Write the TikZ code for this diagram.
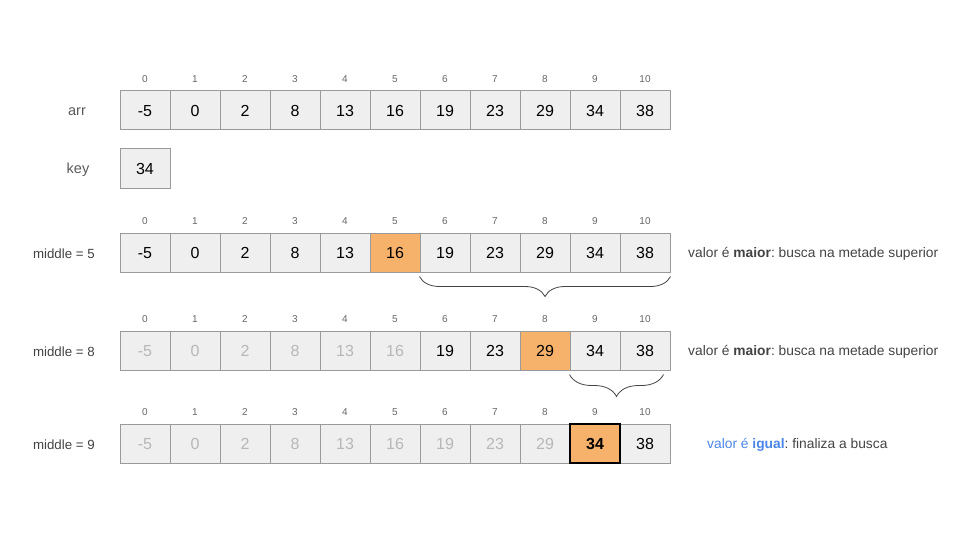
\documentclass[tikz,border=0pt]{standalone}
\usepackage{fontspec}
\setmainfont{Liberation Sans}
\usetikzlibrary{decorations.pathreplacing}
\frenchspacing
\definecolor{cellfill}{HTML}{EFEFEF}
\definecolor{cellline}{HTML}{9A9A9A}
\definecolor{hl}{HTML}{F6B26B}
\definecolor{faded}{HTML}{B7B7B7}
\definecolor{idxcol}{HTML}{666666}
\definecolor{lblcol}{HTML}{595959}
\definecolor{txtcol}{HTML}{434343}
\definecolor{bluecol}{HTML}{4A86E8}
\tikzset{
  cell/.style={draw=cellline, line width=1pt, fill=cellfill, minimum width=50pt, minimum height=39pt, inner sep=0pt, text height=11.5pt, text depth=0pt, font=\fontsize{16}{19}\selectfont, text=black},
  fadedcell/.style={cell, text=faded},
  hlcell/.style={cell, fill=hl},
  foundcell/.style={cell, fill=hl, draw=black, line width=2pt, font=\fontsize{16}{19}\selectfont\bfseries},
  idx/.style={font=\fontsize{10}{12}\selectfont, text=idxcol, inner sep=0pt},
  rowlbl/.style={font=\fontsize{14.5}{17}\selectfont, text=lblcol, inner sep=0pt},
  midlbl/.style={font=\fontsize{13.3}{16}\selectfont, text=txtcol, inner sep=0pt, anchor=east},
  sidetxt/.style={font=\fontsize{13.8}{16}\selectfont, text=txtcol, inner sep=0pt, anchor=west},
  bracepath/.style={draw=txtcol, line width=0.8pt, decorate, decoration={brace, mirror, amplitude=20pt}}
}
\begin{document}
\begin{tikzpicture}[x=1pt, y=-1pt]
\useasboundingbox (0,0) rectangle (960,540);
\def\vals{-5,0,2,8,13,16,19,23,29,34,38}
% Row 1: arr
\node[rowlbl] (larr) at (77,111.5) {arr};
\foreach \v [count=\i from 0] in \vals {
  \node[cell] (a\i) at (145+50*\i,110.5) {\v};
  \node[idx] (ia\i) at (145+50*\i,79) {\i};
}
% Row 2: key
\node[rowlbl] (lkey) at (78,170) {key};
\node[cell] (key) at (145,168.5) {34};
% Row 3: middle = 5
\node[midlbl] (lm5) at (95,254) {middle = 5};
\foreach \v [count=\i from 0] in \vals {
  \ifnum\i=5
    \node[hlcell] (b\i) at (145+50*\i,252.5) {\v};
  \else
    \node[cell] (b\i) at (145+50*\i,252.5) {\v};
  \fi
  \node[idx] (ib\i) at (145+50*\i,221) {\i};
}
\node[sidetxt] (t5) at (688,253.5) {valor é \textbf{maior}: busca na metade superior};
\draw[bracepath] ([yshift=-4pt]b6.south west) -- ([yshift=-4pt]b10.south east);
% Row 4: middle = 8
\node[midlbl] (lm8) at (95,352) {middle = 8};
\foreach \v [count=\i from 0] in \vals {
  \ifnum\i<6
    \node[fadedcell] (c\i) at (145+50*\i,350.5) {\v};
  \else\ifnum\i=8
    \node[hlcell] (c\i) at (145+50*\i,350.5) {\v};
  \else
    \node[cell] (c\i) at (145+50*\i,350.5) {\v};
  \fi\fi
  \node[idx] (ic\i) at (145+50*\i,319) {\i};
}
\node[sidetxt] (t8) at (688,351.5) {valor é \textbf{maior}: busca na metade superior};
\draw[bracepath, decoration={amplitude=22pt}] ([yshift=-4pt]c9.south west) -- ([yshift=-4pt,xshift=-7pt]c10.south east);
% Row 5: middle = 9
\node[midlbl] (lm9) at (95,445) {middle = 9};
\foreach \v [count=\i from 0] in \vals {
  \ifnum\i<9
    \node[fadedcell] (d\i) at (145+50*\i,443.5) {\v};
  \else\ifnum\i=10
    \node[cell] (d\i) at (145+50*\i,443.5) {\v};
  \fi\fi
  \node[idx] (id\i) at (145+50*\i,412) {\i};
}
\node[foundcell] (d9) at (595,443.5) {34};
\node[sidetxt] (t9) at (707,445) {\textcolor{bluecol}{valor é \textbf{igual}}: finaliza a busca};
\end{tikzpicture}
\end{document}
